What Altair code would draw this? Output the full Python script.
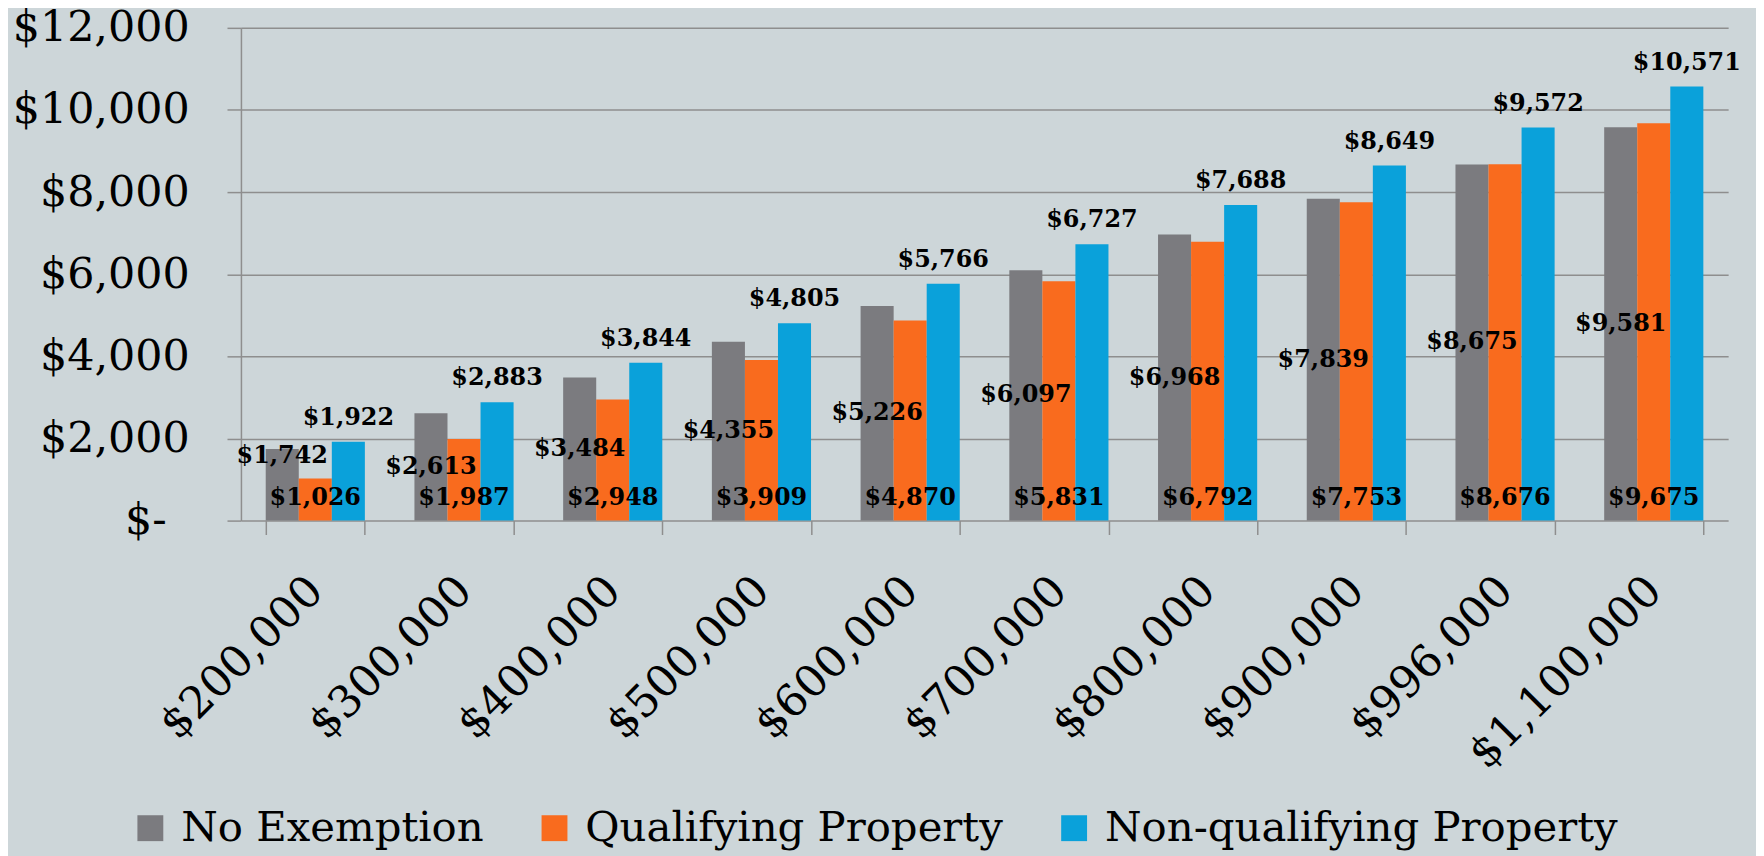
import altair as alt
import pandas as pd

categories = ["$200,000", "$300,000", "$400,000", "$500,000", "$600,000",
              "$700,000", "$800,000", "$900,000", "$996,000", "$1,100,000"]
series_names = ["No Exemption", "Qualifying Property", "Non-qualifying Property"]
no_exemption = [1742, 2613, 3484, 4355, 5226, 6097, 6968, 7839, 8675, 9581]
qualifying = [1026, 1987, 2948, 3909, 4870, 5831, 6792, 7753, 8676, 9675]
non_qualifying = [1922, 2883, 3844, 4805, 5766, 6727, 7688, 8649, 9572, 10571]
colors = ["#7b7b7f", "#f96b1e", "#0aa1da"]

rows = []
for s, vals in zip(series_names, [no_exemption, qualifying, non_qualifying]):
    for c, v in zip(categories, vals):
        rows.append({"cat": c, "series": s, "v": v, "label": "${:,}".format(v)})
df = pd.DataFrame(rows)

FONT = "DejaVu Serif"
GRID = "#8e8e8e"
BG = "#cdd6d9"

xenc = alt.X("cat:N", sort=categories, title=None,
             scale=alt.Scale(paddingInner=1/3, paddingOuter=1/6),
             axis=alt.Axis(labelAngle=-45, labelAlign="right", labelBaseline="top",
                           labelFont=FONT, labelFontSize=44, labelColor="black",
                           labelPadding=34, labelOffset=-15, labelLimit=500,
                           tickBand="extent",
                           tickSize=14, tickColor=GRID, tickWidth=1.5,
                           domain=False, grid=False))
xoff = alt.XOffset("series:N", sort=series_names)

base = alt.Chart(df)

bars = base.mark_bar().encode(
    x=xenc,
    xOffset=xoff,
    y=alt.Y("v:Q", title=None, scale=alt.Scale(domain=[0, 12000]),
            axis=alt.Axis(values=[0, 2000, 4000, 6000, 8000, 10000, 12000],
                          labelExpr="datum.value == 0 ? '$-' : '$' + format(datum.value, ',')",
                          labelFont=FONT, labelFontSize=43, labelColor="black",
                          labelPadding={"condition": {"test": "datum.value === 0", "value": 61},
                                        "value": 38},
                          tickSize=14, tickColor=GRID, tickWidth=1.5,
                          grid=True, gridColor=GRID, gridWidth=1.5,
                          domain=True, domainColor=GRID, domainWidth=1.5)),
    color=alt.Color("series:N", sort=series_names,
                    scale=alt.Scale(domain=series_names, range=colors),
                    legend=alt.Legend(title=None, orient="none", direction="horizontal",
                                      legendX=-112, legendY=783,
                                      symbolType="square", symbolSize=676,
                                      symbolStrokeWidth=0, labelFont=FONT,
                                      labelFontSize=42, labelColor="black",
                                      labelOffset=10, labelLimit=0,
                                      columnPadding=50)),
)

txt = dict(font=FONT, fontSize=24, fontWeight="bold", color="black")

t_gray = base.transform_filter(alt.datum.series == series_names[0]).transform_calculate(
    ypos="datum.v / 2 < 1000 ? 1580 : datum.v / 2"
).mark_text(baseline="middle", **txt).encode(
    x=alt.X("cat:N", sort=categories), xOffset=xoff,
    y=alt.Y("ypos:Q"), text="label:N")

t_orange = base.transform_filter(alt.datum.series == series_names[1]).transform_calculate(
    ypos="0"
).mark_text(baseline="alphabetic", dy=-16, **txt).encode(
    x=alt.X("cat:N", sort=categories), xOffset=xoff,
    y=alt.Y("ypos:Q"), text="label:N")

t_blue = base.transform_filter(alt.datum.series == series_names[2]).mark_text(
    baseline="alphabetic", dy=-17, **txt).encode(
    x=alt.X("cat:N", sort=categories), xOffset=xoff,
    y=alt.Y("v:Q"), text="label:N")

chart = alt.layer(bars, t_gray, t_orange, t_blue).properties(
    width=1494, height=495,
    autosize=alt.AutoSizeParams(type="none"),
    padding={"left": 234, "top": 18, "right": 28, "bottom": 335},
    background=BG,
).configure_view(stroke=None)

chart.save("out.html", embed_options={"renderer": "svg", "actions": False})
